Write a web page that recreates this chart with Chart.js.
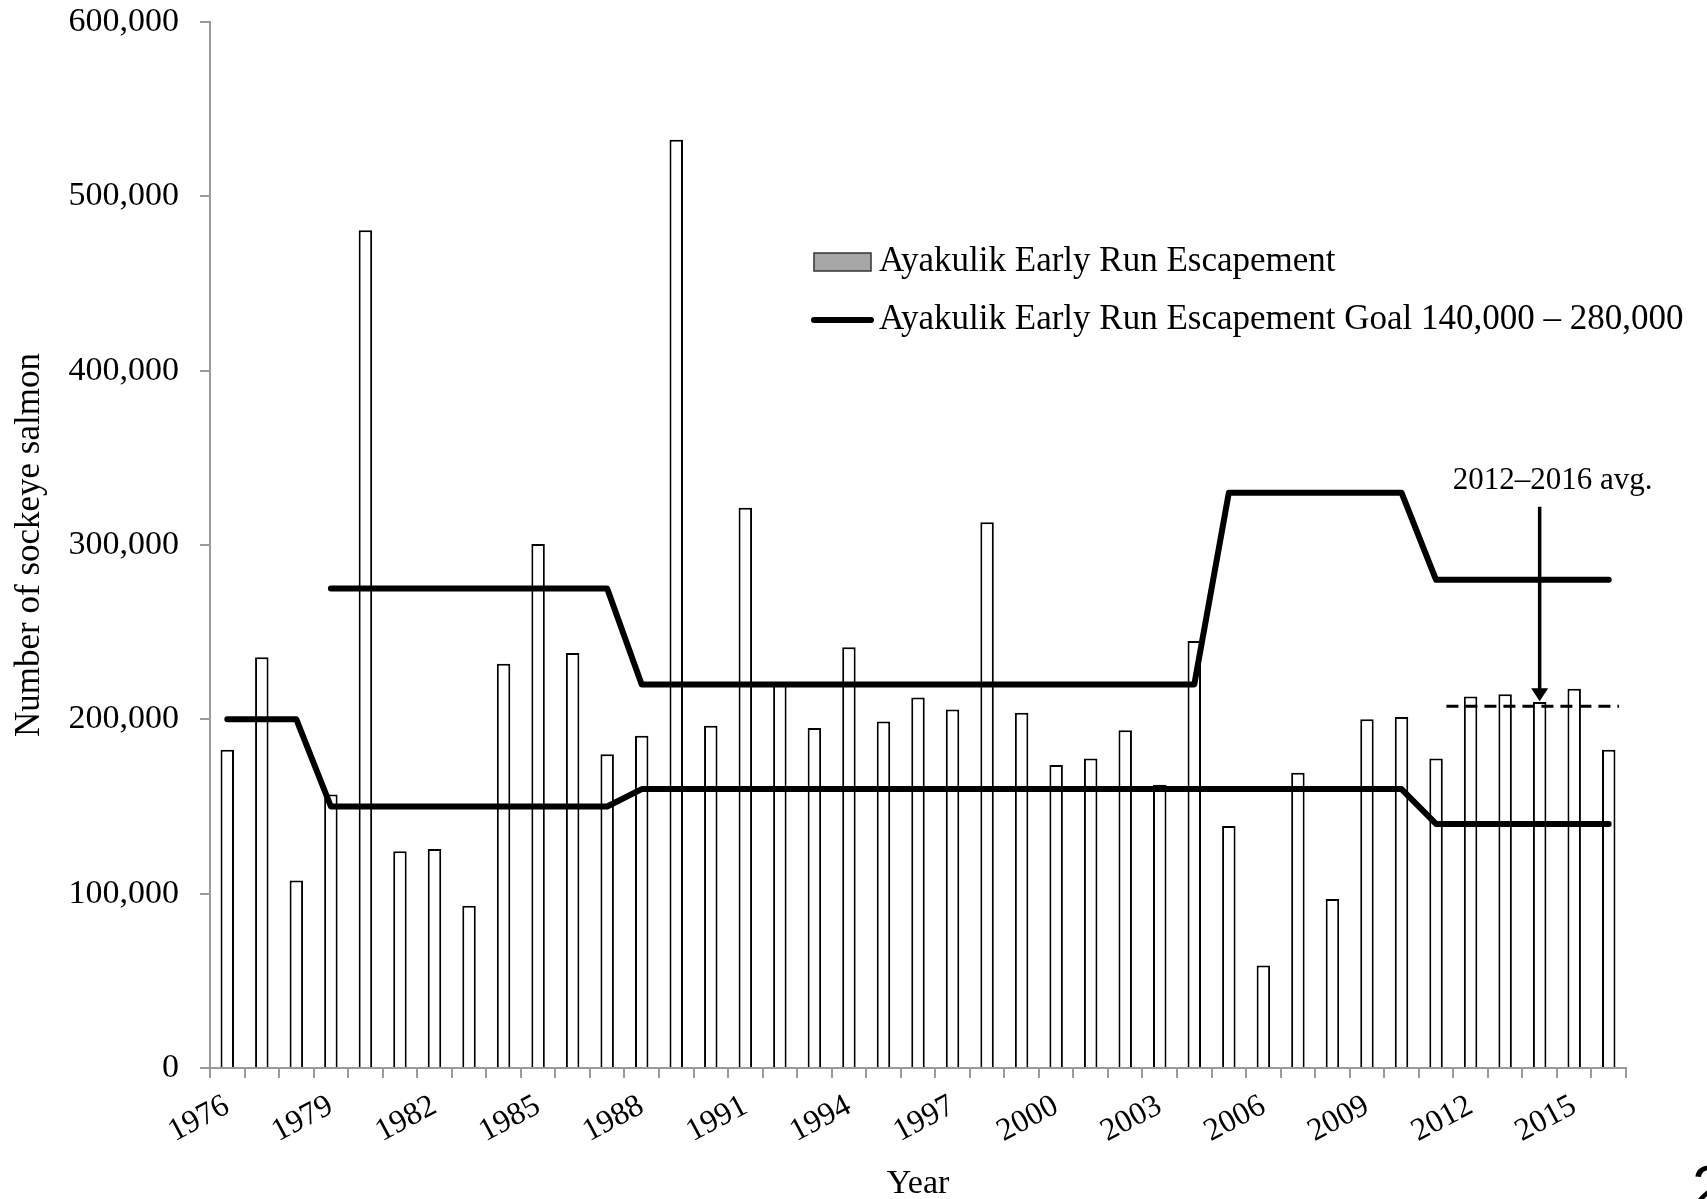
<!DOCTYPE html>
<html>
<head>
<meta charset="utf-8">
<title>Ayakulik Early Run Escapement</title>
<script src="https://cdn.jsdelivr.net/npm/chart.js@4.4.1/dist/chart.umd.min.js"></script>
<style>
  html, body { margin: 0; padding: 0; background: #fff; }
  #chart { display: block; }
</style>
</head>
<body>
<canvas id="chart" width="1707" height="1199"></canvas>
<script>
// --- Data ---
const years = [
  '1976', '1977', '1978', '1979', '1980', '1981', '1982', '1983', '1984', '1985',
  '1986', '1987', '1988', '1989', '1990', '1991', '1992', '1993', '1994', '1995',
  '1996', '1997', '1998', '1999', '2000', '2001', '2002', '2003', '2004', '2005',
  '2006', '2007', '2008', '2009', '2010', '2011', '2012', '2013', '2014', '2015', '2016'
];

const escapement = [
  182500, 235600, 107500, 156900, 480600, 124400, 125600, 93100, 231900, 300600,
  238100, 180000, 190600, 532500, 196300, 321300, 221000, 195000, 241300, 198800,
  212500, 205600, 313100, 203800, 173800, 177500, 193800, 162500, 245000, 138800,
  58800, 169400, 96900, 200000, 201300, 177500, 213100, 214400, 210000, 217500, 182500
];

const goalLower = [
  200000, 200000, 200000, 150000, 150000, 150000, 150000, 150000, 150000, 150000,
  150000, 150000, 160000, 160000, 160000, 160000, 160000, 160000, 160000, 160000,
  160000, 160000, 160000, 160000, 160000, 160000, 160000, 160000, 160000, 160000,
  160000, 160000, 160000, 160000, 160000, 140000, 140000, 140000, 140000, 140000, 140000
];

const goalUpper = [
  null, null, null, 275000, 275000, 275000, 275000, 275000, 275000, 275000,
  275000, 275000, 220000, 220000, 220000, 220000, 220000, 220000, 220000, 220000,
  220000, 220000, 220000, 220000, 220000, 220000, 220000, 220000, 220000, 330000,
  330000, 330000, 330000, 330000, 330000, 280000, 280000, 280000, 280000, 280000, 280000
];

// 2012-2016 average, drawn as a dashed line
const avgSpan = [2011.3, 2016.3];
const avgValue = 207500;
const avgLabel = '2012\u20132016 avg.';
const arrowYear = '2014';
const arrowTop = 322000;

const yTicks = [0, 100000, 200000, 300000, 400000, 500000, 600000];

const legendBar = 'Ayakulik Early Run Escapement';
const legendLine = 'Ayakulik Early Run Escapement Goal 140,000 \u2013 280,000';

const SERIF = '"Liberation Serif", "Times New Roman", serif';
const AXIS_GREY = '#9a9a9a';

// --- Overlay drawing: legend, avg arrow, page number ---
const overlayPlugin = {
  id: 'overlay',
  afterDatasetsDraw(chart) {
    const ctx = chart.ctx;
    const x = chart.scales.x;
    const y = chart.scales.y;

    // arrow pointing to the 2012-2016 average
    const ax = x.getPixelForValue(years.indexOf(arrowYear));
    const yTop = y.getPixelForValue(arrowTop);
    const yTip = y.getPixelForValue(avgValue) - 5;
    ctx.save();
    ctx.strokeStyle = '#000';
    ctx.fillStyle = '#000';
    ctx.lineWidth = 3.5;
    ctx.beginPath();
    ctx.moveTo(ax, yTop);
    ctx.lineTo(ax, yTip - 12);
    ctx.stroke();
    ctx.beginPath();
    ctx.moveTo(ax - 8.5, yTip - 13);
    ctx.lineTo(ax + 8.5, yTip - 13);
    ctx.lineTo(ax, yTip);
    ctx.closePath();
    ctx.fill();

    ctx.font = '31px ' + SERIF;
    ctx.textAlign = 'center';
    ctx.textBaseline = 'middle';
    ctx.fillText(avgLabel, ax + 13, yTop - 26);

    // legend
    const lx = 814, tx = 879;
    const row1 = 262, row2 = 320;
    ctx.fillStyle = '#a6a6a6';
    ctx.fillRect(lx, row1 - 9, 57, 18);
    ctx.strokeStyle = '#333';
    ctx.lineWidth = 1.5;
    ctx.strokeRect(lx, row1 - 9, 57, 18);

    ctx.strokeStyle = '#000';
    ctx.lineWidth = 6;
    ctx.lineCap = 'round';
    ctx.beginPath();
    ctx.moveTo(lx, row2);
    ctx.lineTo(lx + 57, row2);
    ctx.stroke();

    ctx.fillStyle = '#000';
    ctx.font = '35px ' + SERIF;
    ctx.textAlign = 'left';
    ctx.textBaseline = 'middle';
    ctx.fillText(legendBar, tx, row1);
    ctx.fillText(legendLine, tx, row2);

    // page number peeking in at the corner
    ctx.font = '62px "Liberation Sans", Arial, sans-serif';
    ctx.textBaseline = 'alphabetic';
    ctx.fillText('2', 1692, 1208);
    ctx.restore();
  }
};

const ctx = document.getElementById('chart').getContext('2d');

new Chart(ctx, {
  type: 'bar',
  data: {
    labels: years,
    datasets: [
      {
        type: 'line',
        label: 'Goal upper',
        data: goalUpper,
        borderColor: '#000',
        borderWidth: 6,
        pointRadius: 0,
        tension: 0,
        borderJoinStyle: 'round',
        borderCapStyle: 'round',
        spanGaps: false,
        order: 0
      },
      {
        type: 'line',
        label: 'Goal lower',
        data: goalLower,
        borderColor: '#000',
        borderWidth: 6,
        pointRadius: 0,
        tension: 0,
        borderJoinStyle: 'round',
        borderCapStyle: 'round',
        order: 0
      },
      {
        type: 'line',
        label: '2012-2016 avg',
        data: avgSpan.map(v => ({ x: v, y: avgValue })),
        xAxisID: 'xAvg',
        borderColor: '#000',
        borderWidth: 3,
        borderDash: [12, 7],
        pointRadius: 0,
        order: 0
      },
      {
        label: legendBar,
        data: escapement,
        backgroundColor: '#fff',
        borderColor: '#000',
        borderWidth: 2,
        borderSkipped: 'start',
        grouped: false,
        categoryPercentage: 1,
        barPercentage: 0.39,
        order: 1
      }
    ]
  },
  options: {
    responsive: false,
    animation: false,
    layout: {
      padding: { top: 22, right: 81, left: 0, bottom: 0 }
    },
    plugins: {
      legend: { display: false },
      tooltip: { enabled: false }
    },
    scales: {
      x: {
        type: 'category',
        offset: true,
        afterFit: (scale) => {
          scale.height = 131;
          scale.paddingLeft = 0;
          scale.paddingRight = 0;
        },
        grid: {
          offset: true,
          drawOnChartArea: false,
          drawTicks: true,
          tickLength: 10,
          color: AXIS_GREY,
          lineWidth: 2
        },
        border: { color: AXIS_GREY, width: 2 },
        ticks: {
          autoSkip: false,
          minRotation: 28,
          maxRotation: 28,
          padding: 9,
          color: '#000',
          font: { family: SERIF, size: 32 },
          callback: function (value, index) {
            return index % 3 === 0 ? this.getLabelForValue(value) : '';
          }
        },
        title: {
          display: true,
          text: 'Year',
          color: '#000',
          font: { family: SERIF, size: 34, lineHeight: 0.85 },
          padding: { top: 0, bottom: 0 }
        }
      },
      xAvg: {
        type: 'linear',
        display: false,
        offset: false,
        grid: { offset: false },
        min: 1975.5,
        max: 2016.5
      },
      y: {
        min: 0,
        max: 600000,
        afterFit: (scale) => {
          scale.width = 210;
          scale.paddingTop = 0;
          scale.paddingBottom = 0;
        },
        afterBuildTicks: (scale) => {
          scale.ticks = yTicks.map(v => ({ value: v }));
        },
        grid: {
          drawOnChartArea: false,
          drawTicks: true,
          tickLength: 10,
          color: AXIS_GREY,
          lineWidth: 2
        },
        border: { color: AXIS_GREY, width: 2 },
        ticks: {
          padding: 21,
          color: '#000',
          font: { family: SERIF, size: 34 },
          callback: (value) => Number(value).toLocaleString('en-US')
        },
        title: {
          display: true,
          text: 'Number of sockeye salmon',
          color: '#000',
          font: { family: SERIF, size: 35 },
          padding: { top: 9, bottom: 0 }
        }
      }
    }
  },
  plugins: [overlayPlugin]
});
</script>
</body>
</html>
